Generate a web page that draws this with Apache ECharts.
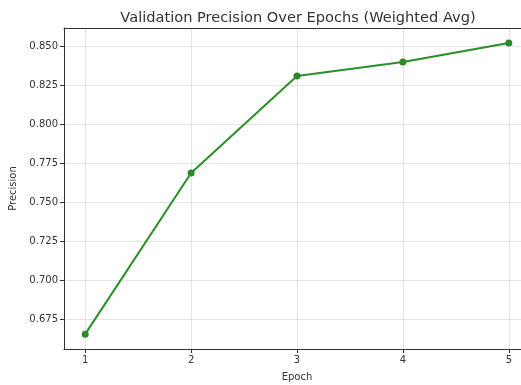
<!DOCTYPE html>
<html>
<head>
<meta charset="utf-8">
<script src="https://cdn.jsdelivr.net/npm/echarts@6/dist/echarts.min.js"></script>
<style>
html,body{margin:0;padding:0;background:#fff;overflow:hidden;}
#chart{width:521px;height:385px;}
</style>
</head>
<body>
<div id="chart"></div>
<script>
const epochs = [1, 2, 3, 4, 5];
const precision = [0.6654, 0.7686, 0.8307, 0.8397, 0.8519];
const xTicks = [1, 2, 3, 4, 5];
const yTicks = [0.675, 0.700, 0.725, 0.750, 0.775, 0.800, 0.825, 0.850];

const chart = echarts.init(document.getElementById('chart'), null, {renderer: 'canvas'});
const font = 'DejaVu Sans';
chart.setOption({
  animation: false,
  backgroundColor: '#ffffff',
  title: {
    text: 'Validation Precision Over Epochs (Weighted Avg)',
    left: 293, top: 6, textAlign: 'center',
    textStyle: {fontFamily: font, fontSize: 14.6, fontWeight: 'normal', color: '#333'}
  },
  grid: {left: 64, width: 466, top: 28, height: 321, containLabel: false,
    outerBoundsMode: 'none'},
  xAxis: [{
    type: 'value', min: 0.8, max: 5.2,
    name: 'Epoch', nameLocation: 'middle', nameGap: 23,
    nameTextStyle: {fontFamily: font, fontSize: 10, color: '#333'},
    axisLine: {show: true, onZero: false, lineStyle: {color: '#333', width: 1}},
    axisTick: {show: true, customValues: xTicks, length: 4, lineStyle: {color: '#333'}},
    axisLabel: {customValues: xTicks, fontFamily: font, fontSize: 10, color: '#333', margin: 6,
      formatter: v => String(v)},
    splitLine: {show: true, lineStyle: {color: '#e4e4e4', width: 1}}
  }, {
    type: 'value', min: 0.8, max: 5.2, position: 'top',
    axisLine: {show: true, onZero: false, lineStyle: {color: '#333', width: 1}},
    axisTick: {show: false}, axisLabel: {show: false}, splitLine: {show: false}
  }],
  yAxis: {
    type: 'value', min: 0.6559, max: 0.8615,
    name: 'Precision', nameLocation: 'middle', nameGap: 45,
    nameTextStyle: {fontFamily: font, fontSize: 10, color: '#333'},
    axisLine: {show: true, lineStyle: {color: '#333', width: 1}},
    axisTick: {show: true, customValues: yTicks, length: 4, lineStyle: {color: '#333'}},
    axisLabel: {customValues: yTicks, fontFamily: font, fontSize: 10, color: '#333', margin: 6,
      formatter: v => v.toFixed(3)},
    splitLine: {show: true, lineStyle: {color: '#e4e4e4', width: 1}}
  },
  series: [{
    type: 'line',
    xAxisIndex: 0,
    data: epochs.map((e, i) => [e, precision[i]]),
    symbol: 'circle', symbolSize: 7,
    lineStyle: {color: '#2a8f2a', width: 2},
    itemStyle: {color: '#2a8a2a'}
  }]
});
</script>
</body>
</html>
